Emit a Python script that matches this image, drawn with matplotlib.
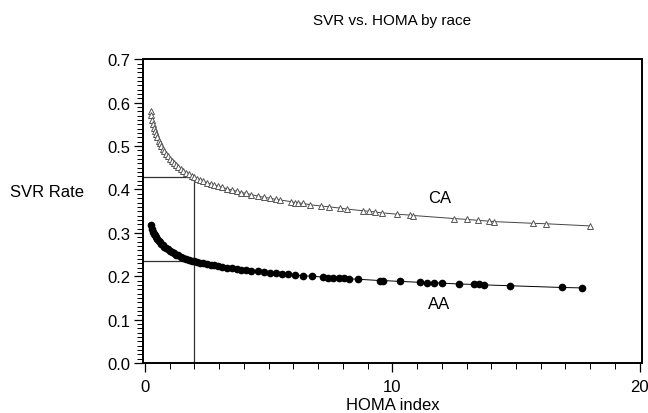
import numpy as np
import matplotlib
matplotlib.use("Agg")
import matplotlib.pyplot as plt
from matplotlib.ticker import MultipleLocator

plt.rcParams['font.family'] = ['Liberation Sans', 'DejaVu Sans']

# CA (caucasian) fitted SVR rate by HOMA index
ca_homa = [0.23, 0.26, 0.30, 0.33, 0.37, 0.41, 0.45, 0.50, 0.55, 0.60, 0.66, 0.72,
           0.78, 0.85, 0.92, 1.00, 1.08, 1.16, 1.25, 1.34, 1.44, 1.55, 1.66, 1.78,
           1.90, 2.00, 2.10, 2.22, 2.35, 2.50, 2.65, 2.80, 2.95, 3.10, 3.30, 3.50,
           3.70, 3.90, 4.10, 4.30, 4.55, 4.80, 5.05, 5.30, 5.45, 5.90, 6.05, 6.20,
           6.40, 6.65, 7.10, 7.45, 7.90, 8.15, 8.80, 9.05, 9.30, 9.60, 10.2, 10.7,
           10.85, 12.5, 13.0, 13.45, 13.9, 14.1, 15.7, 16.2, 18.0]
ca_svr = [0.581, 0.571, 0.560, 0.552, 0.543, 0.535, 0.528, 0.520, 0.513, 0.507, 0.500, 0.494,
          0.488, 0.482, 0.477, 0.471, 0.466, 0.461, 0.457, 0.452, 0.448, 0.443, 0.439, 0.435,
          0.431, 0.428, 0.425, 0.422, 0.420, 0.416, 0.413, 0.410, 0.408, 0.405, 0.402, 0.399,
          0.396, 0.393, 0.391, 0.388, 0.385, 0.382, 0.380, 0.377, 0.376, 0.372, 0.370, 0.369,
          0.368, 0.365, 0.362, 0.360, 0.357, 0.355, 0.351, 0.350, 0.348, 0.346, 0.343, 0.341,
          0.340, 0.333, 0.331, 0.329, 0.327, 0.326, 0.322, 0.321, 0.316]

# AA (african american)
aa_homa = [0.23, 0.29, 0.33, 0.37, 0.41, 0.45, 0.50, 0.55, 0.60, 0.66, 0.72, 0.78,
           0.85, 0.92, 1.00, 1.08, 1.16, 1.25, 1.34, 1.44, 1.55, 1.66, 1.78, 1.90,
           2.00, 2.10, 2.22, 2.35, 2.50, 2.65, 2.80, 2.95, 3.10, 3.30, 3.50, 3.70,
           3.90, 4.10, 4.30, 4.55, 4.80, 5.05, 5.30, 5.55, 5.80, 6.05, 6.40, 6.75,
           7.20, 7.40, 7.60, 7.85, 8.05, 8.25, 8.60, 9.50, 9.62, 10.3, 11.1, 11.4,
           11.7, 12.0, 12.7, 13.3, 13.5, 13.7, 14.75, 16.85, 17.65]
aa_svr = [0.319, 0.309, 0.303, 0.298, 0.294, 0.290, 0.286, 0.282, 0.278, 0.275, 0.271, 0.268,
          0.265, 0.262, 0.259, 0.256, 0.253, 0.250, 0.248, 0.245, 0.243, 0.240, 0.238, 0.236,
          0.234, 0.233, 0.231, 0.230, 0.228, 0.226, 0.225, 0.223, 0.222, 0.220, 0.218, 0.217,
          0.215, 0.214, 0.213, 0.211, 0.210, 0.208, 0.207, 0.205, 0.204, 0.203, 0.201, 0.200,
          0.198, 0.197, 0.197, 0.196, 0.195, 0.194, 0.193, 0.190, 0.190, 0.188, 0.186, 0.185,
          0.185, 0.184, 0.182, 0.181, 0.181, 0.180, 0.178, 0.174, 0.173]

# reference lines at HOMA = 2
ref_homa = 2.0
ref_ca = 0.428
ref_aa = 0.234

fig = plt.figure(figsize=(6.48, 4.14), dpi=100)
ax = fig.add_axes([0.220, 0.121, 0.771, 0.733])

x0 = -0.1
ax.plot([x0, ref_homa], [ref_ca, ref_ca], color="#333333", lw=0.9, zorder=1)
ax.plot([x0, ref_homa], [ref_aa, ref_aa], color="#333333", lw=0.9, zorder=1)
ax.plot([ref_homa, ref_homa], [0, ref_ca], color="#333333", lw=0.9, zorder=1)

ax.plot(ca_homa, ca_svr, color="#444444", lw=0.7, marker="^", markersize=4,
        markerfacecolor="white", markeredgecolor="#555555", markeredgewidth=0.7, zorder=2)
ax.plot(aa_homa, aa_svr, color="black", lw=0.7, marker="o", markersize=4.5,
        markerfacecolor="black", markeredgecolor="black", zorder=2)

ax.text(11.9, 0.382, "CA", fontsize=12, ha="center", va="center")
ax.text(11.9, 0.136, "AA", fontsize=12, ha="center", va="center")

ax.set_xlim(x0, 20.1)
ax.set_ylim(0, 0.7)
ax.xaxis.set_major_locator(MultipleLocator(10))
ax.xaxis.set_minor_locator(MultipleLocator(1))
ax.yaxis.set_major_locator(MultipleLocator(0.1))
ax.yaxis.set_minor_locator(MultipleLocator(0.01))
ax.yaxis.set_major_formatter(matplotlib.ticker.FormatStrFormatter("%.1f"))
ax.tick_params(which="major", length=6.5, width=0.9, labelsize=12, pad=2)
ax.tick_params(axis="x", which="major", pad=5)
ax.tick_params(which="minor", length=4.5, width=0.7)

for s in ax.spines.values():
    s.set_linewidth(1.4)

ax.set_xlabel("HOMA index", fontsize=12, va="center")
ax.xaxis.set_label_coords(0.5, -0.137)
ax.set_ylabel("SVR Rate", fontsize=12, rotation=0, ha="left", va="center")
ax.yaxis.set_label_coords(-0.266, 0.566)
ax.text(0.5, 1.13, "SVR vs. HOMA by race", fontsize=11, ha="center", va="center",
        transform=ax.transAxes)

fig.savefig("out.png", dpi=100)
